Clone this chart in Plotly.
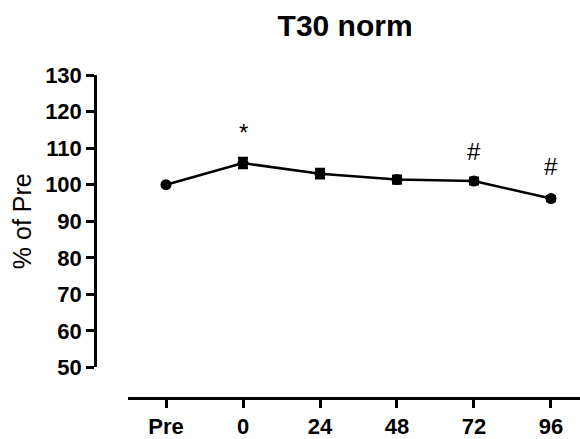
import plotly.graph_objects as go

categories = ["Pre", "0", "24", "48", "72", "96"]
values = [100.0, 105.9, 103.0, 101.4, 101.0, 96.2]
errors = [0.0, 1.3, 1.2, 1.0, 0.8, 0.6]
sig_labels = ["", "*", "", "", "#", "#"]
sig_offsets = [0, 8.5, 0, 0, 8.0, 8.8]

xpos = list(range(len(categories)))
FONT = "Liberation Sans, Arial"

fig = go.Figure()
fig.add_trace(go.Scatter(
    x=xpos, y=values,
    mode="lines+markers",
    line=dict(color="black", width=2.5),
    marker=dict(symbol="circle", size=11, color="black"),
    error_y=dict(type="data", array=errors, visible=True, color="black", thickness=3, width=5),
    showlegend=False,
))

for xi, v, lab, off in zip(xpos, values, sig_labels, sig_offsets):
    if lab:
        fig.add_annotation(x=xi, y=v + off, text=lab, showarrow=False,
                           font=dict(family=FONT, size=24, color="black"),
                           xref="x", yref="y", yanchor="middle")

fig.update_layout(
    width=580, height=439,
    margin=dict(l=95, r=0, t=75, b=36),
    paper_bgcolor="white", plot_bgcolor="white",
    title=dict(text="T30 norm", x=0.595, xanchor="center", y=0.942, yanchor="middle",
               font=dict(family=FONT, size=30, color="black", weight="bold")),
    xaxis=dict(
        domain=[0.068, 1], range=[-0.494, 5.377],
        tickvals=xpos, ticktext=categories,
        showline=True, linecolor="black", linewidth=2.5,
        ticks="outside", ticklen=8, tickwidth=2.5, tickcolor="black",
        showgrid=False, zeroline=False, anchor="free", position=0,
        tickfont=dict(family=FONT, size=22, color="black", weight="bold"),
    ),
    yaxis=dict(
        domain=[0.0945, 1], range=[50, 130],
        tickvals=[50, 60, 70, 80, 90, 100, 110, 120, 130],
        showline=True, linecolor="black", linewidth=2.5,
        ticks="outside", ticklen=8, tickwidth=2.5, tickcolor="black",
        showgrid=False, zeroline=False, anchor="free", position=0,
        tickfont=dict(family=FONT, size=22, color="black", weight="bold"),
        title=dict(text="% of Pre", standoff=5,
                   font=dict(family=FONT, size=25, color="black")),
    ),
)

fig.write_html("out.html")
